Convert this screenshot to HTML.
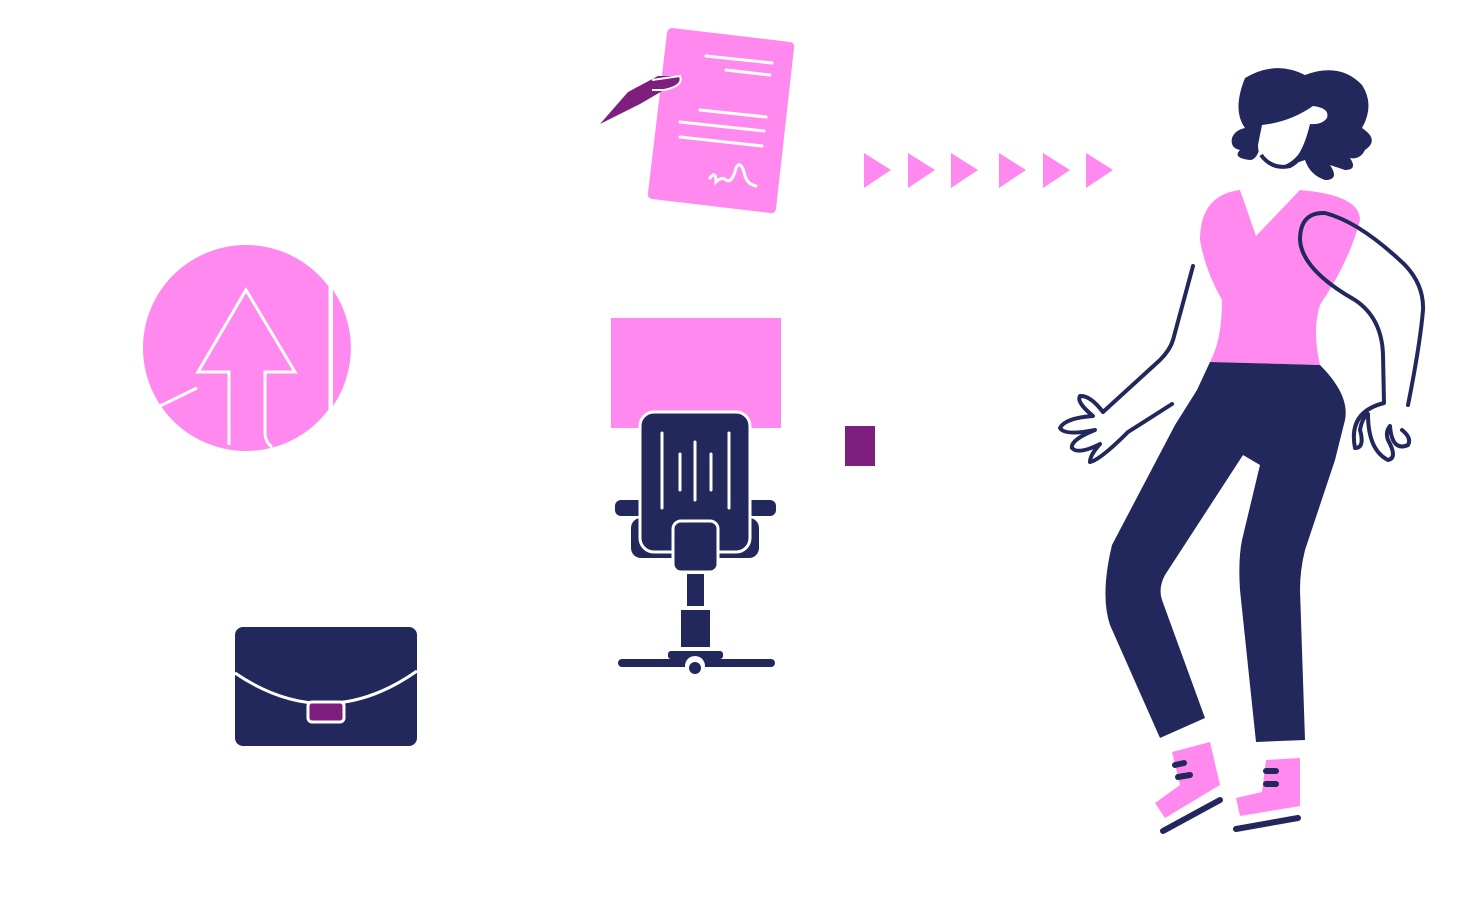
<!DOCTYPE html>
<html><head><meta charset="utf-8"><style>html,body{margin:0;padding:0;background:#fff}svg{display:block}</style></head>
<body>
<svg width="1458" height="900" viewBox="0 0 1458 900" xmlns="http://www.w3.org/2000/svg">
<defs><clipPath id="cc"><rect x="130" y="230" width="199" height="240"/></clipPath></defs>
<!-- document -->
<path d="M672,28 L790,42 Q795,43 794,48 L776,209 Q775,214 770,213 L652,199 Q647,198 648,193 L667,33 Q668,28 672,28 Z" fill="#FF89EE"/>
<g stroke="#fff" stroke-width="3" stroke-linecap="round" fill="none">
<line x1="706" y1="56" x2="772" y2="63"/><line x1="726" y1="70" x2="770" y2="75"/>
<line x1="700" y1="110" x2="766" y2="117"/><line x1="680" y1="122" x2="764" y2="131"/><line x1="680" y1="137" x2="762" y2="146"/>
<path d="M710,178 Q716,170 716,182 Q722,176 726,180 Q732,184 736,168 Q740,160 744,172 Q746,184 756,186"/>
</g>
<path d="M600,124 L628,92 L658,76 L680,76 Q684,86 664,90 L640,104 Z" fill="#7E1E7E"/>
<path d="M652,80 L680,76 Q684,86 664,90 L652,90" fill="none" stroke="#fff" stroke-width="2"/>
<!-- arrows -->
<g fill="#FF89EE">
<polygon points="864,153 891,170 864,188"/><polygon points="908,153 935,170 908,188"/><polygon points="951,153 978,170 951,188"/>
<polygon points="999,153 1026,170 999,188"/><polygon points="1043,153 1070,170 1043,188"/><polygon points="1086,153 1113,170 1086,188"/>
</g>
<!-- circle -->
<circle cx="246" cy="348" r="103" fill="#FF89EE" clip-path="url(#cc)"/>
<path d="M333,290 A103,103 0 0 1 333,406 Z" fill="#FF89EE"/>
<line x1="330" y1="285" x2="330" y2="410" stroke="#fff" stroke-width="3"/>
<path d="M229,445 L229,372 L198,372 L246,290 L295,372 L265,372 L265,432 Q265,442 272,447" fill="none" stroke="#fff" stroke-width="3"/>
<line x1="160" y1="406" x2="197" y2="388" stroke="#fff" stroke-width="3"/>
<!-- pink rect + purple -->
<rect x="611" y="318" width="170" height="110" fill="#FF89EE"/>
<rect x="845" y="426" width="30" height="40" fill="#7E1E7E"/>
<!-- chair -->
<g fill="#22285C">
<rect x="615" y="500" width="161" height="16" rx="6"/>
<rect x="631" y="518" width="128" height="40" rx="10"/>
<rect x="640" y="412" width="110" height="140" rx="14" stroke="#fff" stroke-width="3"/>
<rect x="673" y="521" width="45" height="51" rx="8" stroke="#fff" stroke-width="3"/>
<rect x="687" y="574" width="17" height="32"/>
<rect x="681" y="610" width="29" height="37"/>
<rect x="668" y="651" width="55" height="8" rx="3"/>
<rect x="618" y="659" width="157" height="8" rx="4"/>
</g>
<g stroke="#fff" stroke-width="3" stroke-linecap="round">
<line x1="662" y1="433" x2="662" y2="508"/><line x1="729" y1="433" x2="729" y2="508"/>
<line x1="695" y1="442" x2="695" y2="500"/><line x1="680" y1="454" x2="680" y2="490"/><line x1="711" y1="454" x2="711" y2="490"/>
</g>
<circle cx="695" cy="666" r="10" fill="#fff"/><circle cx="695" cy="668" r="6" fill="#22285C"/>
<!-- briefcase -->
<rect x="235" y="627" width="182" height="119" rx="8" fill="#22285C"/>
<path d="M235,673 Q326,735 417,671" fill="none" stroke="#fff" stroke-width="3"/>
<rect x="308" y="702" width="36" height="20" rx="4" fill="#7E1E7E" stroke="#fff" stroke-width="3"/>
<!-- woman -->
<path d="M1240,190 Q1200,195 1200,240 Q1205,270 1222,300 Q1222,340 1210,362 L1320,365 Q1312,330 1320,305 Q1350,260 1360,220 Q1360,195 1300,190 L1256,236 Z" fill="#FF89EE"/>
<path d="M1210,362 L1320,365 Q1350,395 1345,420 L1335,460 L1305,550 Q1300,570 1300,590 L1305,740 L1256,742 L1240,590 Q1238,560 1242,540 L1260,465 L1243,455 L1165,575 Q1158,588 1162,600 L1205,718 L1160,738 L1110,625 Q1100,595 1112,545 L1175,425 L1197,390 Z" fill="#22285C"/>
<path d="M1172,752 L1210,742 L1220,785 L1165,818 L1155,803 L1180,785 Z" fill="#FF89EE"/>
<path d="M1266,760 L1300,758 L1300,806 L1240,816 L1236,798 L1262,792 Z" fill="#FF89EE"/>
<g stroke="#22285C" stroke-width="6" stroke-linecap="round" fill="none">
<line x1="1163" y1="831" x2="1220" y2="800"/><line x1="1236" y1="829" x2="1298" y2="818"/>
<line x1="1175" y1="765" x2="1184" y2="763"/><line x1="1178" y1="777" x2="1190" y2="775"/>
<line x1="1266" y1="771" x2="1276" y2="771"/><line x1="1266" y1="784" x2="1276" y2="784"/>
</g>
<!-- hair -->
<path d="M1245,78 Q1275,60 1305,75 Q1340,62 1362,85 Q1375,105 1362,128 Q1380,140 1365,150 Q1360,160 1350,158 Q1358,170 1345,170 L1330,165 Q1340,180 1325,180 Q1310,175 1305,160 L1290,165 Q1260,165 1262,140 Q1258,160 1250,160 Q1232,158 1240,150 Q1230,148 1232,138 Q1235,130 1245,128 Q1232,110 1245,78 Z" fill="#22285C"/>
<path d="M1262,125 Q1290,122 1313,106 Q1330,108 1327,118 Q1322,125 1310,124 Q1305,145 1298,155 Q1285,170 1270,165 Q1258,160 1258,145 Z" fill="#fff"/>
<path d="M1261,155 Q1272,170 1290,166 Q1302,160 1307,142" fill="none" stroke="#22285C" stroke-width="4"/>
<g stroke="#22285C" stroke-width="4" stroke-linecap="round" stroke-linejoin="round" fill="none">
<path d="M1193,266 L1173,340 Q1170,350 1160,360 L1103,412 Q1090,395 1080,396 Q1076,402 1093,416 Q1065,418 1060,428 Q1065,436 1095,430 Q1070,440 1072,448 Q1078,455 1100,444 Q1090,455 1090,462 Q1100,460 1128,432 L1172,404"/>
<path d="M1408,405 Q1420,345 1423,310 Q1424,285 1405,265 Q1360,222 1325,213 Q1300,212 1300,240 Q1302,270 1355,300 Q1382,318 1383,355 L1384,403 Q1348,412 1355,448 Q1365,448 1360,430 Q1362,418 1368,414 Q1368,450 1388,460 Q1398,458 1388,440 Q1385,432 1390,426 Q1392,452 1408,445 Q1412,438 1402,430"/>
</g>
</svg>
</body></html>
